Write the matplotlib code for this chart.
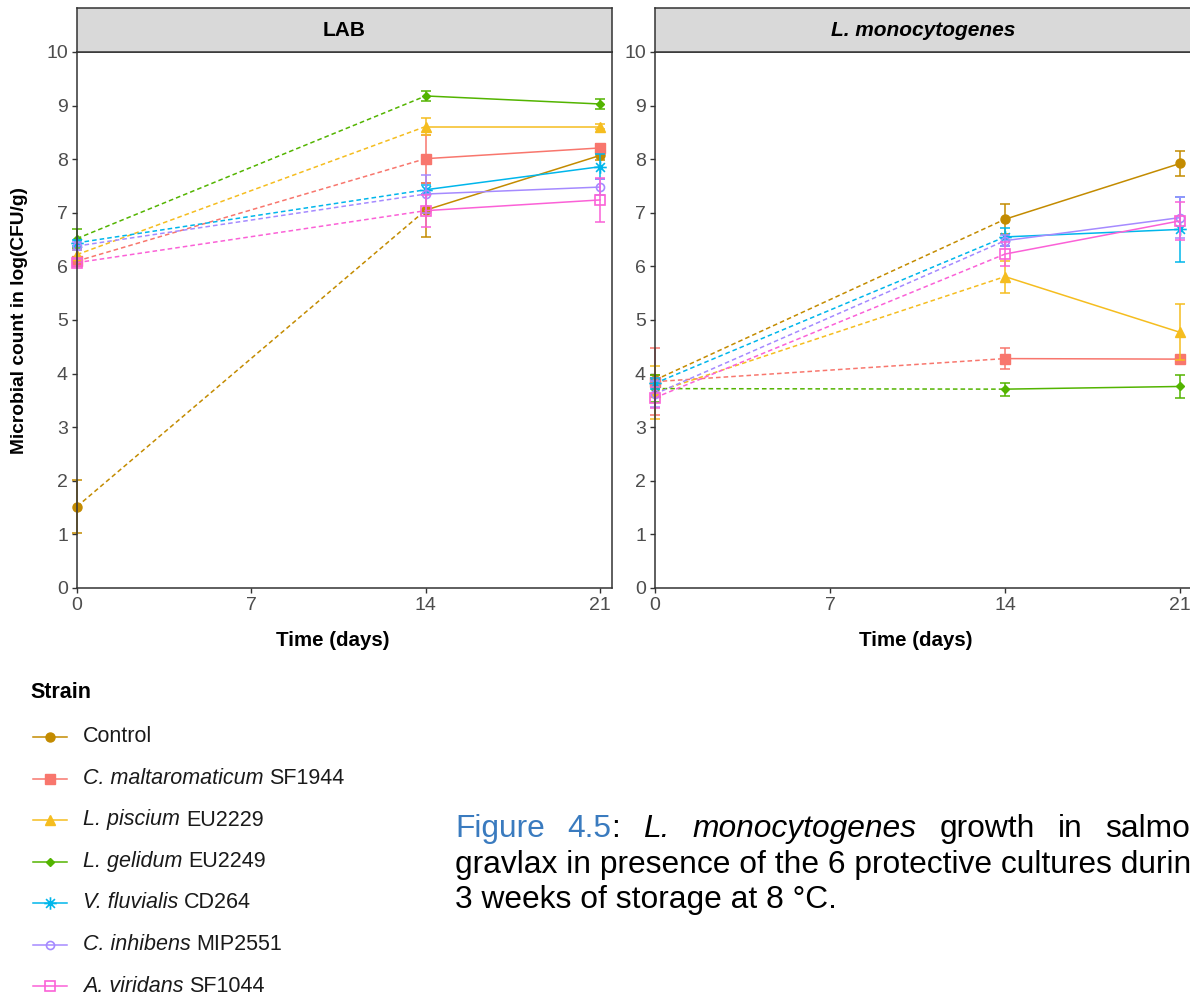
import matplotlib
matplotlib.use('Agg')
import matplotlib.pyplot as plt
from matplotlib.path import Path

W, H = 1190, 999

plt.rcParams['font.family'] = ['Liberation Sans', 'DejaVu Sans']

# sampling days
days = [0, 14, 21]
day_ticks = [0, 7, 14, 21]

# strain names: italic species part, plain strain code
strain_species = ['', 'C. maltaromaticum', 'L. piscium', 'L. gelidum',
                  'V. fluvialis', 'C. inhibens', 'A. viridans']
strain_codes = ['Control', 'SF1944', 'EU2229', 'EU2249', 'CD264', 'MIP2551', 'SF1044']
strain_colors = ['#C38B00', '#F8766D', '#F5BD1F', '#53B400', '#00B6EB', '#A58AFF', '#FB61D7']

# LAB counts, log(CFU/g), mean and sd per strain
lab_mean = [
    [1.52, 7.05, 8.07],
    [6.10, 8.01, 8.21],
    [6.22, 8.61, 8.61],
    [6.52, 9.18, 9.03],
    [6.44, 7.43, 7.86],
    [6.38, 7.35, 7.48],
    [6.07, 7.04, 7.24],
]
lab_sd = [
    [0.50, 0.50, 0.08],
    [0.06, 0.45, 0.08],
    [0.08, 0.15, 0.04],
    [0.18, 0.10, 0.10],
    [0.06, 0.08, 0.23],
    [0.07, 0.35, 0.15],
    [0.06, 0.30, 0.41],
]

# L. monocytogenes counts
lm_mean = [
    [3.88, 6.88, 7.92],
    [3.85, 4.28, 4.27],
    [3.65, 5.81, 4.77],
    [3.72, 3.71, 3.76],
    [3.82, 6.55, 6.69],
    [3.62, 6.48, 6.91],
    [3.55, 6.23, 6.85],
]
lm_sd = [
    [0.10, 0.28, 0.24],
    [0.62, 0.20, 0.04],
    [0.50, 0.30, 0.52],
    [0.25, 0.12, 0.21],
    [0.10, 0.17, 0.60],
    [0.25, 0.10, 0.38],
    [0.20, 0.22, 0.35],
]

s, d = 0.5, 0.3536
asterisk = Path([(-s, 0), (s, 0), (0, -s), (0, s), (-d, -d), (d, d), (-d, d), (d, -d)],
                [Path.MOVETO, Path.LINETO] * 4)

marker_styles = [
    dict(marker='o', markersize=6.5),
    dict(marker='s', markersize=7),
    dict(marker='^', markersize=7.5),
    dict(marker='D', markersize=4.2),
    dict(marker=asterisk, markersize=9, markerfacecolor='none', markeredgewidth=1.2),
    dict(marker='o', markersize=5.8, markerfacecolor='none', markeredgewidth=1.2),
    dict(marker='s', markersize=7.5, markerfacecolor='none', markeredgewidth=1.2),
]

LW = 1.1
DASH = (0, (3, 2))
EDGE = '#333333'


def frac(x0, y0, x1, y1):
    return [x0 / W, 1 - y1 / H, (x1 - x0) / W, (y1 - y0) / H]


def draw_panel(ax, means, sds):
    for m, e, c, mk in zip(means, sds, strain_colors, marker_styles):
        ax.plot(days[:2], m[:2], color=c, lw=LW, ls=DASH, clip_on=False)
        ax.plot(days[1:], m[1:], color=c, lw=LW, clip_on=False)
        eb = ax.errorbar(days, m, yerr=e, fmt='none', ecolor=c, elinewidth=LW,
                         capsize=3.6, capthick=LW)
        for a in eb.get_children():
            a.set_clip_on(False)
        ax.plot(days, m, ls='none', color=c, clip_on=False, **mk)
    ax.set_xlim(0, 21.48)
    ax.set_ylim(0, 10)
    ax.set_xticks(day_ticks)
    ax.set_yticks(range(0, 11))
    ax.tick_params(labelsize=14, labelcolor='#4D4D4D', color=EDGE,
                   length=3.5, width=1.0, pad=3)
    for sp in ax.spines.values():
        sp.set_color(EDGE)
        sp.set_linewidth(1.1)


def draw_strip(rect, label, style):
    sax = fig.add_axes(rect)
    sax.set_facecolor('#D9D9D9')
    sax.set_xticks([])
    sax.set_yticks([])
    for sp in sax.spines.values():
        sp.set_color(EDGE)
        sp.set_linewidth(1.1)
    sax.text(0.5, 0.5, label, transform=sax.transAxes, ha='center', va='center',
             fontsize=15, fontweight='bold', fontstyle=style)


fig = plt.figure(figsize=(W / 100, H / 100), dpi=100)
renderer = fig.canvas.get_renderer()

# full-figure overlay in pixel units for labels, legend and caption
ov = fig.add_axes([0, 0, 1, 1])
ov.set_xlim(0, W)
ov.set_ylim(H, 0)
ov.axis('off')

ax1 = fig.add_axes(frac(77, 52, 612, 588))
draw_panel(ax1, lab_mean, lab_sd)
draw_strip(frac(77, 8, 612, 52), 'LAB', 'normal')

ax2 = fig.add_axes(frac(655, 52, 1192, 588))
draw_panel(ax2, lm_mean, lm_sd)
draw_strip(frac(655, 8, 1192, 52), 'L. monocytogenes', 'italic')

ov.text(333, 640, 'Time (days)', ha='center', va='center', fontsize=14.8, fontweight='bold')
ov.text(916, 640, 'Time (days)', ha='center', va='center', fontsize=14.8, fontweight='bold')
ov.text(20, 320, 'Microbial count in log(CFU/g)', ha='center', va='center',
        rotation=90, fontsize=13.8, fontweight='bold')

# legend
ov.text(30, 693, 'Strain', ha='left', va='center', fontsize=15.5, fontweight='bold')
for i, (sp_name, code, c, mk) in enumerate(zip(strain_species, strain_codes,
                                               strain_colors, marker_styles)):
    y = 737 + 41.5 * i
    ov.plot([33, 67], [y, y], color=c, lw=LW, clip_on=False)
    ov.plot([50], [y], ls='none', color=c, clip_on=False, **mk)
    x = 83
    if sp_name:
        t = ov.text(x, y, sp_name + ' ', ha='left', va='center', fontsize=15.5,
                    fontstyle='italic', color='#1A1A1A')
        x += t.get_window_extent(renderer).width
    ov.text(x, y, code, ha='left', va='center', fontsize=15.5, color='#1A1A1A')

# caption, justified like a text block
blue = '#3A7BBF'
cap_x = 455
cap_size = 20
line2 = 'gravlax in presence of the 6 protective cultures during'
probe = ov.text(cap_x, 873, line2[:-1], fontsize=cap_size, va='baseline', clip_on=False)
cap_size = cap_size * (W - cap_x) / probe.get_window_extent(renderer).width
probe.set_text(line2)
probe.set_fontsize(cap_size)

words = [
    [('Figure', blue, 'normal')],
    [('4.5', blue, 'normal'), (':', 'black', 'normal')],
    [('L.', 'black', 'italic')],
    [('monocytogenes', 'black', 'italic')],
    [('growth', 'black', 'normal')],
    [('in', 'black', 'normal')],
    [('salmon', 'black', 'normal')],
]
pieces = []
for word in words:
    parts = []
    for txt, col, st in word:
        t = ov.text(0, 837, txt, fontsize=cap_size, color=col, fontstyle=st, va='baseline')
        parts.append((t, t.get_window_extent(renderer).width))
    pieces.append(parts)
total = sum(w for parts in pieces for _, w in parts)
right_edge = 1208
gap = (right_edge - cap_x - total) / (len(pieces) - 1)
x = cap_x
for parts in pieces:
    for t, w in parts:
        t.set_x(x)
        x += w
    x += gap

ov.text(cap_x, 908, '3 weeks of storage at 8 °C.', fontsize=cap_size, va='baseline')

fig.savefig('out.png', dpi=100)
